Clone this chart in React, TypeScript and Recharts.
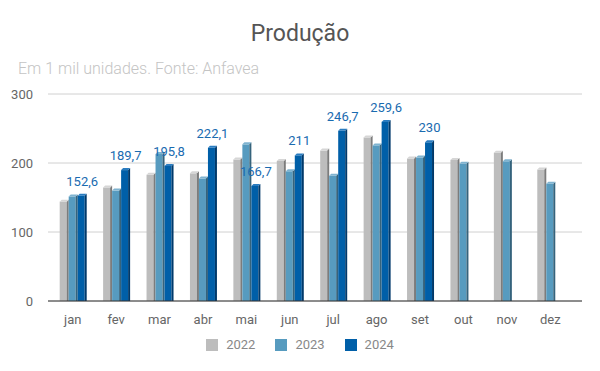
import React from "react";
import { BarChart, Bar, XAxis, YAxis, CartesianGrid, LabelList } from "recharts";

const meses = ["jan", "fev", "mar", "abr", "mai", "jun", "jul", "ago", "set", "out", "nov", "dez"];
const prod2022 = [144, 164.5, 183, 185, 205, 203, 218, 237, 206.5, 204.5, 215, 190.5];
const prod2023 = [151.5, 160, 213, 177.5, 227, 188, 181.5, 225.5, 208, 199, 202.5, 170];
const prod2024 = [152.6, 189.7, 195.8, 222.1, 166.7, 211, 246.7, 259.6, 230, null, null, null];
const yTicks = [0, 100, 200, 300];

const series = [
  { key: "a2022", name: "2022", front: "#bdbdbd", side: "#7c7c7c", top: "#d6d6d6" },
  { key: "a2023", name: "2023", front: "#579bbf", side: "#35637c", top: "#7fb3d0" },
  { key: "a2024", name: "2024", front: "#005fa8", side: "#00396a", top: "#2a7cc0" },
];

const data = meses.map((m, i) => ({
  mes: m,
  a2022: prod2022[i],
  a2023: prod2023[i],
  a2024: prod2024[i],
}));

const makeShape = (s: { front: string; side: string; top: string }) => (props: any) => {
  const { x, y, width, height } = props;
  if (!height || height <= 0) return <g />;
  const d = 2;
  const fw = width - d;
  return (
    <g>
      <rect x={x} y={y} width={fw} height={height} fill={s.front} />
      <polygon
        points={`${x + fw},${y} ${x + width},${y - d} ${x + width},${y + height} ${x + fw},${y + height}`}
        fill={s.side}
      />
      <polygon
        points={`${x},${y} ${x + d},${y - d} ${x + width},${y - d} ${x + fw},${y}`}
        fill={s.top}
      />
    </g>
  );
};

const fmt = (v: any) => (v == null ? "" : String(v).replace(".", ","));

export default function App() {
  return (
    <div style={{ position: "absolute", left: 0, top: 0, width: 600, height: 371, fontFamily: "Roboto", background: "#fff" }}>
      <div style={{ position: "absolute", top: 20, left: 0, width: 600, textAlign: "center", fontSize: 23, color: "#555" }}>
        Produção
      </div>
      <div style={{ position: "absolute", top: 59, left: 18, fontSize: 16, color: "#c4c4c4", fontWeight: 300 }}>
        Em 1 mil unidades. Fonte: Anfavea
      </div>
      <BarChart
        width={600}
        height={371}
        data={data}
        margin={{ top: 94, right: 18, left: 8, bottom: 40 }}
        barCategoryGap={8.7}
        barGap={0}
      >
        <CartesianGrid vertical={false} stroke="#d0d0d0" />
        <XAxis
          dataKey="mes"
          padding={{ left: 3, right: 10 }}
          tickLine={false}
          axisLine={{ stroke: "#333" }}
          tick={{ fill: "#666", fontSize: 13 }}
          tickMargin={8}
          height={30}
        />
        <YAxis
          domain={[0, 300]}
          ticks={yTicks}
          axisLine={false}
          tickLine={false}
          width={40}
          tickMargin={9}
          tick={{ fill: "#666", fontSize: 13 }}
        />
        {series.map((s) => (
          <Bar key={s.key} dataKey={s.key} name={s.name} fill={s.front} shape={makeShape(s)} isAnimationActive={false}>
            {s.key === "a2024" && (
              <LabelList dataKey="a2024" position="top" offset={10} fill="#1a6bb0" fontSize={13} formatter={fmt} />
            )}
          </Bar>
        ))}
      </BarChart>
      <div style={{ position: "absolute", top: 337, left: 0, width: 600, display: "flex", justifyContent: "center", gap: 20 }}>
        {series.map((s) => (
          <div key={s.key} style={{ display: "flex", alignItems: "center", fontSize: 13, color: "#888" }}>
            <span style={{ display: "inline-block", width: 12, height: 12, background: s.front, marginRight: 8 }} />
            {s.name}
          </div>
        ))}
      </div>
    </div>
  );
}
